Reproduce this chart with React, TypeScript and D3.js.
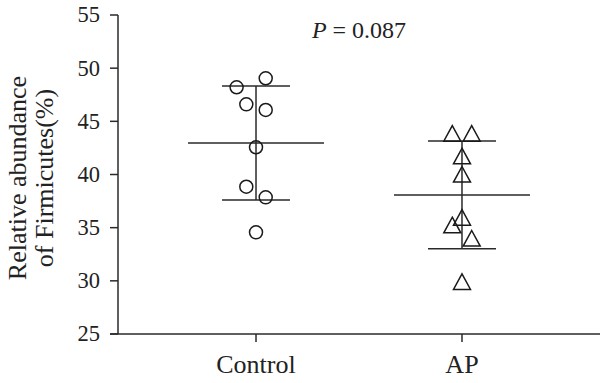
import React from "react";
import * as d3 from "d3";

const categories = ["Control", "AP"];
const controlValues = [48.2, 49.05, 46.6, 46.07, 42.56, 38.85, 37.85, 34.56];
const apValues = [43.87, 43.87, 41.74, 40.02, 35.97, 35.25, 34.0, 29.92];
// horizontal jitter, in marker-step units
const controlJitter = [-2, 1, -1, 1, 0, -1, 1, 0];
const apJitter = [-1, 1, 0, 0, 0, -1, 1, 0];
const yTicks = [25, 30, 35, 40, 45, 50, 55];
const pLabel = "0.087";

const W = 600;
const H = 383;
const FONT = "'Liberation Serif', 'DejaVu Serif', serif";
const INK = "#2a2a2a";

export default function App() {
  const y = d3.scaleLinear().domain([25, 55]).range([334, 15]);
  const x = d3.scalePoint<string>().domain(categories).range([118, 600]).padding(0.67);
  const step = 9.7;

  const groups = [
    { name: "Control", values: controlValues, jitter: controlJitter, shape: "circle" },
    { name: "AP", values: apValues, jitter: apJitter, shape: "triangle" },
  ];

  const tri = (cx: number, cy: number) => {
    const hw = 8.5, hh = 7.8;
    return `M${cx},${cy - hh}L${cx + hw},${cy + hh}L${cx - hw},${cy + hh}Z`;
  };

  return (
    <svg width={W} height={H} style={{ position: "absolute", left: 0, top: 0, background: "#fff" }}>
      {/* y axis */}
      <line x1={118} x2={118} y1={y(55)} y2={y(25)} stroke={INK} strokeWidth={1.5} />
      {yTicks.map((t) => (
        <g key={t}>
          <line x1={110} x2={118} y1={y(t)} y2={y(t)} stroke={INK} strokeWidth={1.5} />
          <text x={100} y={y(t)} dy="0.33em" textAnchor="end" fontFamily={FONT} fontSize={22.5} fill="#222">
            {t}
          </text>
        </g>
      ))}
      {/* x axis */}
      <line x1={110} x2={600} y1={y(25)} y2={y(25)} stroke={INK} strokeWidth={1.5} />
      {categories.map((c) => (
        <g key={c}>
          <line x1={x(c)} x2={x(c)} y1={y(25)} y2={y(25) + 8} stroke={INK} strokeWidth={1.5} />
          <text x={x(c)} y={373} textAnchor="middle" fontFamily={FONT} fontSize={26} fill="#222">
            {c}
          </text>
        </g>
      ))}
      {/* y label */}
      <g transform={`translate(0,178) rotate(-90)`}>
        <text x={0} y={26} textAnchor="middle" fontFamily={FONT} fontSize={26} fill="#222">
          Relative abundance
        </text>
        <text x={0} y={53} textAnchor="middle" fontFamily={FONT} fontSize={26} fill="#222">
          of Firmicutes(%)
        </text>
      </g>
      {/* P value */}
      <text x={359} y={38} textAnchor="middle" fontFamily={FONT} fontSize={24} fill="#222">
        <tspan fontStyle="italic">P</tspan>
        <tspan> = {pLabel}</tspan>
      </text>
      {groups.map((g) => {
        const cx = x(g.name) as number;
        const m = d3.mean(g.values) as number;
        const sd = d3.deviation(g.values) as number;
        return (
          <g key={g.name}>
            <line x1={cx - 68} x2={cx + 68} y1={y(m)} y2={y(m)} stroke={INK} strokeWidth={1.5} />
            <line x1={cx - 34} x2={cx + 34} y1={y(m + sd)} y2={y(m + sd)} stroke={INK} strokeWidth={1.5} />
            <line x1={cx - 34} x2={cx + 34} y1={y(m - sd)} y2={y(m - sd)} stroke={INK} strokeWidth={1.5} />
            <line x1={cx} x2={cx} y1={y(m + sd)} y2={y(m - sd)} stroke={INK} strokeWidth={1.5} />
            {g.values.map((v, i) => {
              const px = cx + g.jitter[i] * step;
              const py = y(v);
              return g.shape === "circle" ? (
                <circle key={i} cx={px} cy={py} r={6.5} fill="none" stroke="#1a1a1a" strokeWidth={1.5} />
              ) : (
                <path key={i} d={tri(px, py)} fill="none" stroke="#1a1a1a" strokeWidth={1.5} strokeLinejoin="miter" />
              );
            })}
          </g>
        );
      })}
    </svg>
  );
}
